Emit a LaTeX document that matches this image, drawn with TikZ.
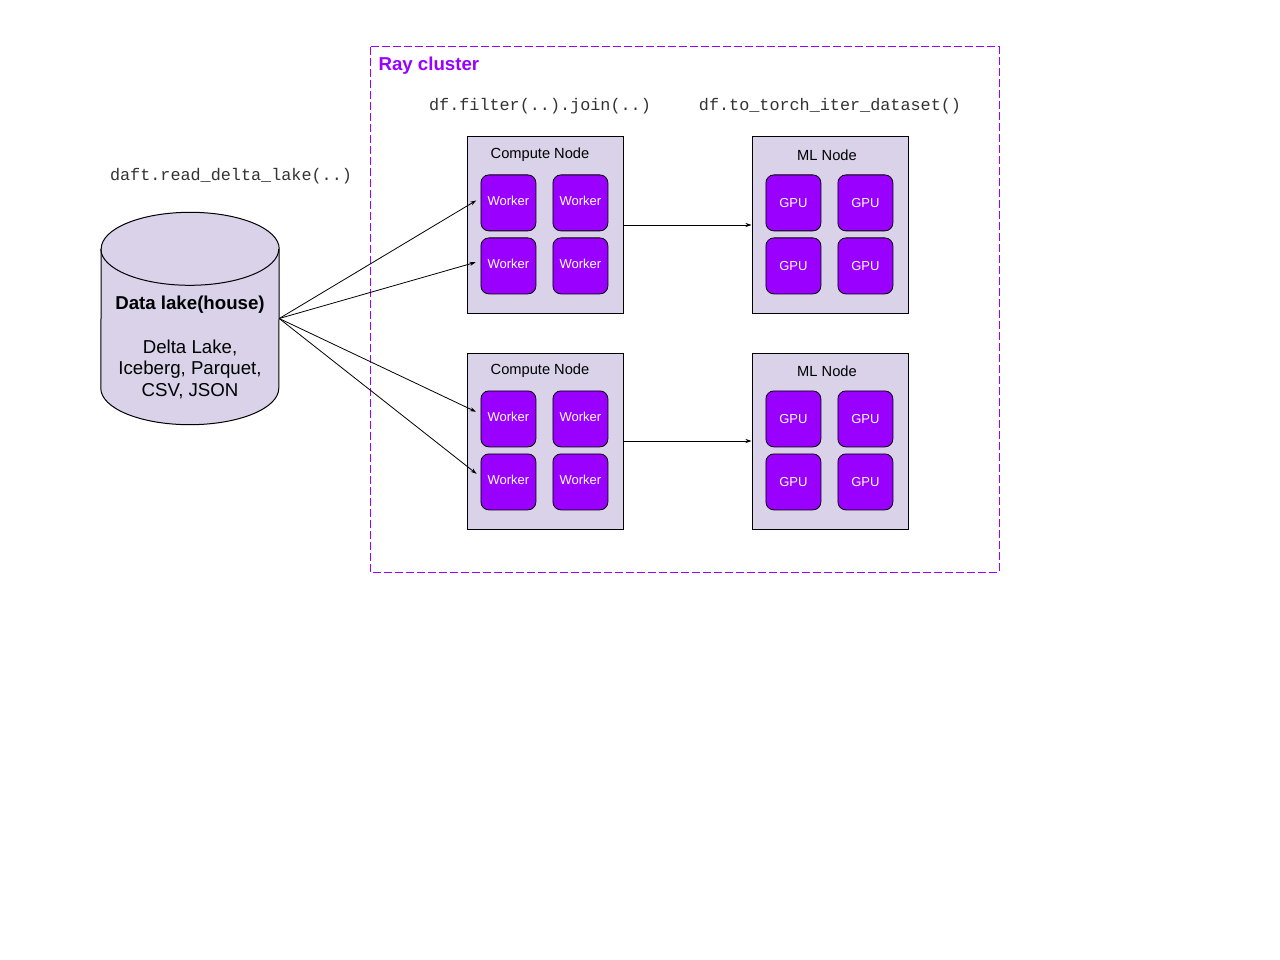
\documentclass[tikz,border=0pt]{standalone}
\usepackage{fontspec}
\setmainfont{Liberation Sans}
\setmonofont{Liberation Mono}
\usetikzlibrary{arrows.meta, positioning}
\definecolor{lavender}{HTML}{D9D2E9}
\definecolor{raypurple}{HTML}{9900FF}
\tikzstyle{box}=[draw, fill=lavender, line width=1pt, minimum width=156pt, minimum height=176pt, inner sep=0pt]
\tikzstyle{chip}=[draw, fill=raypurple, rounded corners=8pt, line width=0.8pt, minimum width=55pt, minimum height=56pt, inner sep=0pt, text=white, font=\fontsize{13}{15}\selectfont]
\tikzstyle{boxlabel}=[font=\fontsize{14.67}{17}\selectfont]
\tikzstyle{code}=[font=\ttfamily\fontsize{16.8}{20}\selectfont, text=black!80]
\tikzstyle{flow}=[->, >={Stealth[length=6pt,width=4pt]}, line width=0.8pt]

\begin{document}
\begin{tikzpicture}[x=1pt, y=-1pt]
  \useasboundingbox (0,0) rectangle (1280,960);
  % ray cluster frame
  \draw[raypurple, dash pattern=on 8pt off 3pt, line width=1pt] (370,47) rectangle (999,572);
  \node[anchor=west, text=raypurple, font=\bfseries\fontsize{18.67}{22}\selectfont] (ray) at (375,66) {Ray cluster};

  % data lake: body node, cylinder drawn round it
  \node[minimum width=178pt, minimum height=139pt, inner sep=0pt] (lake) at (190,318.5) {};
  \draw[fill=lavender, line width=1pt] (lake.south west) arc[start angle=180, end angle=360, x radius=89pt, y radius=36.5pt]
    -- (lake.north east) arc[start angle=0, end angle=180, x radius=89pt, y radius=36.5pt] -- cycle;
  \draw[line width=1pt] (lake.north west) arc[start angle=180, end angle=360, x radius=89pt, y radius=36.5pt];
  \node[align=center, font=\fontsize{18.67}{21.5}\selectfont] (laketext) at ([yshift=-29pt]lake.center) {\textbf{Data lake(house)}\\[22pt]Delta Lake,\\Iceberg, Parquet,\\CSV, JSON};
  \node[code] (readlbl) at (231,176) {daft.read\_delta\_lake(..)};
  \node[code] (joinlbl) at (540,106) {df.filter(..).join(..)};
  \node[code] (torchlbl) at (830,106) {df.to\_torch\_iter\_dataset()};

  % compute and ml nodes
  \node[box] (cn1) at (545,225) {};
  \node[box, right=128pt of cn1] (ml1) {};
  \node[box, below=39pt of cn1] (cn2) {};
  \node[box, right=128pt of cn2] (ml2) {};

  \foreach \n in {1,2} {
    \node[boxlabel] at ([xshift=-5pt, yshift=-18pt]cn\n.north) {Compute Node};
    \node[boxlabel] at ([xshift=-3pt, yshift=-19pt]ml\n.north) {ML Node};
    \foreach \i/\dx/\dy in {1/14/38, 2/86/38, 3/14/101, 4/86/101} {
      \node[chip, text depth=4pt, below right=\dy pt and \dx pt of cn\n.north west] (cn\n w\i) {Worker};
      \node[chip, below right=\dy pt and \dx pt of ml\n.north west] (ml\n g\i) {GPU};
    }
    \draw[flow] (cn\n) -- (ml\n);
    \draw[flow, shorten >=5pt] (lake.east) -- ([yshift=5pt]cn\n w1.west);
    \draw[flow, shorten >=5pt] (lake.east) -- ([yshift=5pt]cn\n w3.west);
  }
\end{tikzpicture}
\end{document}
